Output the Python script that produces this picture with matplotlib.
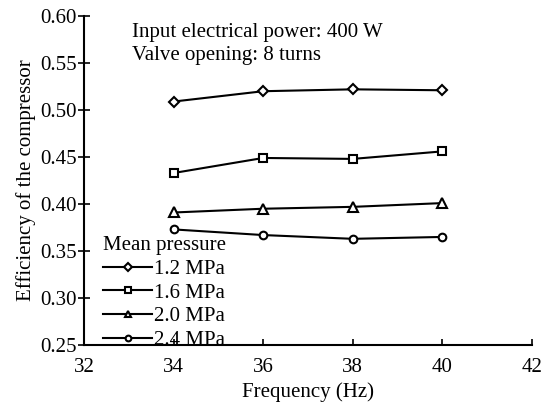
import matplotlib
matplotlib.use("Agg")
import matplotlib.pyplot as plt

plt.rcParams['font.family'] = ['Liberation Serif', 'DejaVu Serif']
plt.rcParams['mathtext.fontset'] = 'stix'

freq = [34, 36, 38, 40]
eff_12 = [0.509, 0.520, 0.522, 0.521]
eff_16 = [0.433, 0.449, 0.448, 0.456]
eff_20 = [0.391, 0.395, 0.397, 0.401]
eff_24 = [0.373, 0.367, 0.363, 0.365]
labels = ['1.2 MPa', '1.6 MPa', '2.0 MPa', '2.4 MPa']
xticks = [32, 34, 36, 38, 40, 42]
yticks = [0.25, 0.30, 0.35, 0.40, 0.45, 0.50, 0.55, 0.60]

fig = plt.figure(figsize=(5.51, 4.05), dpi=100)
ax = fig.add_axes([0.1525, 0.148, 0.813, 0.8125])

series = [eff_12, eff_16, eff_20, eff_24]
markers = ['D', 's', '^', 'o']
msizes = [5, 5.5, 6.5, 5.5]
for vals, lab, m, ms in zip(series, labels, markers, msizes):
    ax.plot(freq, vals, color='black', lw=1.5, marker=m, ms=ms,
            mfc='white', mec='black', mew=1.5, label=lab)

ax.set_xlim(32, 42)
ax.set_ylim(0.25, 0.60)
ax.set_xticks(xticks)
ax.set_yticks(yticks)
ax.set_xticklabels([str(v) for v in xticks])
ax.set_yticklabels(['%.2f' % v for v in yticks])
for s in ['top', 'right']:
    ax.spines[s].set_visible(False)
for s in ['left', 'bottom']:
    ax.spines[s].set_linewidth(1.5)
ax.tick_params(axis='y', direction='inout', length=8, width=1.2, labelsize=15, pad=1)
ax.tick_params(axis='x', direction='in', length=4, width=1.2, labelsize=15, pad=9)

ax.set_xlabel('Frequency (Hz)', fontsize=15, labelpad=4)
ax.set_ylabel('Efficiency of the compressor', fontsize=15, labelpad=3)

ax.text(0.107, 0.978, 'Input electrical power: 400 W\nValve opening: 8 turns',
        transform=ax.transAxes, fontsize=15, va='top', ha='left', linespacing=1.25)

leg = ax.legend(loc='lower left', bbox_to_anchor=(0.01, -0.06), frameon=False,
                fontsize=15, title='Mean pressure', title_fontsize=15,
                handlelength=2.35, handletextpad=0.1, labelspacing=0.2,
                borderpad=0.2, markerscale=0.75, alignment='left')

fig.savefig('out.png', dpi=100)
